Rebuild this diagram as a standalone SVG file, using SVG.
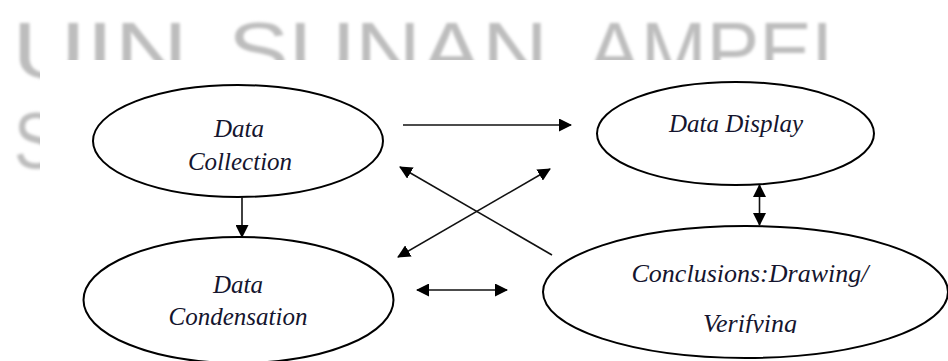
<svg xmlns="http://www.w3.org/2000/svg" width="948" height="361" viewBox="0 0 948 361">
<style>
.wm{font-family:"Liberation Sans","DejaVu Sans",sans-serif;font-size:80px;fill:#bdbdbd}
.node ellipse{fill:none;stroke:#000;stroke-width:2}
.lbl{font-family:"Liberation Serif","Times New Roman",serif;font-style:italic;font-size:25px;fill:#15152e;text-anchor:middle}
.conn line{stroke:#111;stroke-width:1.6;fill:none}
</style>
<defs>
<marker id="ah" viewBox="0 0 13 13" markerWidth="13" markerHeight="13" refX="12" refY="6.5" orient="auto-start-reverse" markerUnits="userSpaceOnUse">
<path d="M0,0 L13,6.5 L0,13 z" fill="#000"/>
</marker>
<filter id="bl" x="-5%" y="-20%" width="110%" height="140%"><feGaussianBlur stdDeviation="1.4"/></filter>
<clipPath id="cc"><rect x="500" y="200" width="448" height="133"/></clipPath>
</defs>
<rect width="948" height="361" fill="#fff"/>
<g id="watermark" filter="url(#bl)">
<text class="wm" x="12" y="78" textLength="176" lengthAdjust="spacingAndGlyphs">UIN</text>
<text class="wm" x="228" y="78" textLength="320" lengthAdjust="spacingAndGlyphs">SUNAN</text>
<text class="wm" x="588" y="78" textLength="268" lengthAdjust="spacingAndGlyphs">AMPEL</text>
<text class="wm" x="14" y="168" textLength="44" lengthAdjust="spacingAndGlyphs">S</text>
</g>
<rect x="40" y="60" width="908" height="301" fill="#fff"/>
<g id="data-collection" class="node">
<ellipse cx="238" cy="141" rx="145" ry="56"/>
<text class="lbl" x="239" y="137">Data</text>
<text class="lbl" x="240" y="170">Collection</text>
</g>
<g id="data-display" class="node">
<ellipse cx="735.5" cy="133.5" rx="138.5" ry="51.5"/>
<text class="lbl" x="736" y="132">Data Display</text>
</g>
<g id="data-condensation" class="node">
<ellipse cx="238.5" cy="300" rx="155" ry="63"/>
<text class="lbl" x="238" y="293">Data</text>
<text class="lbl" x="238" y="325">Condensation</text>
</g>
<g id="conclusions" class="node">
<ellipse cx="745.5" cy="292" rx="202.5" ry="66"/>
<text class="lbl" x="750" y="282" style="font-size:26px">Conclusions:Drawing/</text>
<text class="lbl" x="750" y="332" style="font-size:26px" clip-path="url(#cc)">Verifying</text>
</g>
<g id="connectors" class="conn">
<line x1="242" y1="197" x2="242" y2="237" marker-end="url(#ah)"/>
<line x1="403" y1="125" x2="571" y2="125" marker-end="url(#ah)"/>
<line x1="552" y1="255" x2="400" y2="167" marker-end="url(#ah)"/>
<line x1="398" y1="257" x2="550" y2="169" marker-start="url(#ah)" marker-end="url(#ah)"/>
<line x1="417" y1="290" x2="507" y2="290" marker-start="url(#ah)" marker-end="url(#ah)"/>
<line x1="759.5" y1="185" x2="759.5" y2="225" marker-start="url(#ah)" marker-end="url(#ah)"/>
</g>
</svg>
